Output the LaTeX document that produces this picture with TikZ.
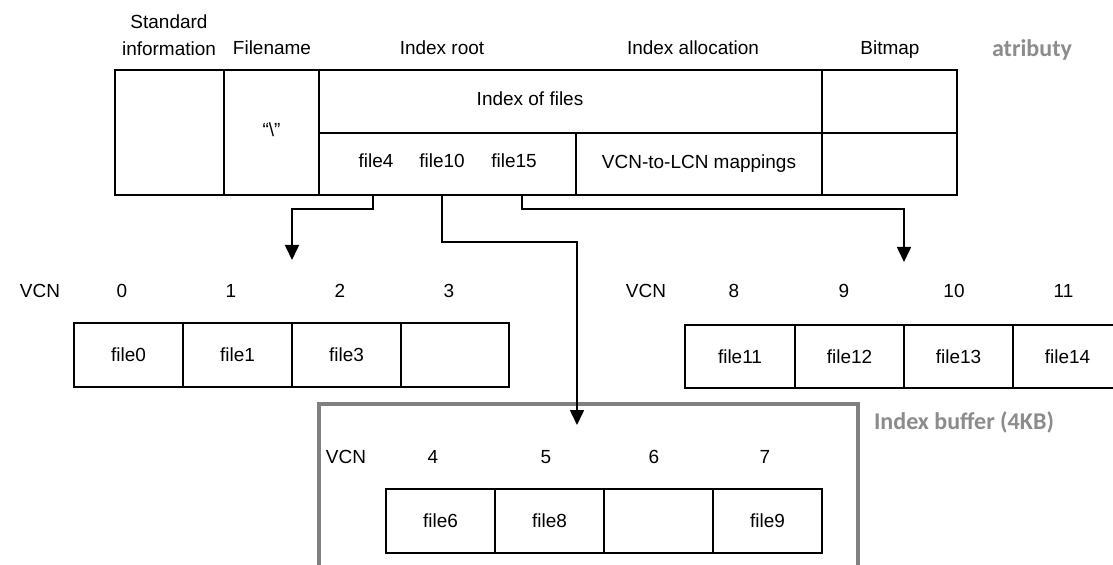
\documentclass[tikz,border=0pt]{standalone}
\usepackage{fontspec}
\setmainfont{Liberation Sans}
\newfontfamily\notefont{Carlito}
\usetikzlibrary{arrows.meta}
\definecolor{notegray}{RGB}{140,140,140}
\definecolor{framegray}{RGB}{128,128,128}
\tikzset{
  lbl/.style={anchor=base, inner sep=0pt, font=\fontsize{16.2pt}{19pt}\selectfont},
  cell/.style n args={2}{draw, line width=1.4pt, inner sep=0pt, outer sep=0pt,
    minimum width=(#1)*0.03cm, minimum height=(#2)*0.03cm,
    font=\fontsize{16.2pt}{19pt}\selectfont},
  note/.style={anchor=base, inner sep=0pt, text=notegray,
    font=\notefont\bfseries\fontsize{20.5pt}{24pt}\selectfont},
  link/.style={line width=1.4pt, -{Triangle[length=0.45cm,width=0.42cm]}},
  bufframe/.style={draw=framegray, line width=3.4pt, inner sep=0pt, outer sep=0pt}
}
\begin{document}
\begin{tikzpicture}[x=0.03cm, y=-0.03cm]
\clip (0,0) rectangle (1113,565);

% attribute headings
\node[lbl, align=center, anchor=center, font=\fontsize{16.2pt}{23pt}\selectfont]
  (hstd) at (169,35) {Standard\\information};
\node[lbl] (hname)  at (272,55) {Filename};
\node[lbl] (hroot)  at (442,55) {Index root};
\node[lbl] (halloc) at (693,55) {Index allocation};
\node[lbl] (hbmp)   at (890,55) {Bitmap};
\node[note] (attr)  at (1032,57) {atributy};

% MFT record of the directory
\node[cell={109}{125}] (stdinfo)  at (169.5,132.5) {};
\node[cell={95}{125}]  (fname)    at (271.5,132.5) {};
\node[cell={503}{63}]  (idxfiles) at (570.5,101.5) {};
\node[cell={135}{63}]  (bmptop)   at (889.5,101.5) {};
\node[cell={257}{62}]  (entries)  at (447.5,164) {};
\node[cell={246}{62}]  (vcnmap)   at (699,164) {VCN-to-LCN mappings};
\node[cell={135}{62}]  (bmpbot)   at (889.5,164) {};

\node[lbl] (ioftext) at (530,106) {Index of files};
\node[lbl] (rootname) at (271.5,137) {“\textbackslash”};
\node[lbl] (file4)  at (376,168) {file4};
\node[lbl] (file10) at (442,168) {file10};
\node[lbl] (file15) at (514,168) {file15};

% left index buffer (VCN 0-3)
\node[lbl] (vcnA) at (40,297) {VCN};
\foreach \n/\x in {0/122,1/231,2/340,3/449}
  \node[lbl] (na\n) at (\x,297) {\n};
\foreach \t/\l/\r [count=\k] in {file0/74/183,file1/183/292,file3/292/401,{}/401/509}
  \node[cell={\r-\l}{64}] (a\k) at ({(\l+\r)/2},355) {\t};

% right index buffer (VCN 8-11)
\node[lbl] (vcnB) at (646,297) {VCN};
\foreach \n/\x in {8/734,9/844,10/954,11/1063.5}
  \node[lbl] (nb\n) at (\x,297) {\n};
\foreach \t/\l/\r [count=\k] in {file11/685/795,file12/795/904,file13/904/1013,file14/1013/1122}
  \node[cell={\r-\l}{63}] (b\k) at ({(\l+\r)/2},356.5) {\t};

% middle index buffer (VCN 4-7), framed
\node[bufframe, minimum width=539*0.03cm, minimum height=200*0.03cm]
  (buffer) at (588.5,504) {};
\node[note] (buflabel) at (964,429) {Index buffer (4KB)};
\node[lbl] (vcnC) at (346,463) {VCN};
\foreach \n/\x in {4/433,5/546,6/654,7/765}
  \node[lbl] (nc\n) at (\x,463) {\n};
\foreach \t/\l/\r [count=\k] in {file6/386/495,file8/495/604,{}/604/713,file9/713/822}
  \node[cell={\r-\l}{64}] (c\k) at ({(\l+\r)/2},521) {\t};

% pointers from the root entries down to the buffers
\coordinate (p4)  at (373,195);
\coordinate (p10) at (442,195);
\coordinate (p15) at (522,195);
\coordinate (t0) at (292,260);
\coordinate (t1) at (577,425);
\coordinate (t2) at (904,262);
\draw[link] (p4)  -- ++(0,14) -| (t0);
\draw[link] (p10) -- ++(0,47) -| (t1);
\draw[link] (p15) -- ++(0,14) -| (t2);
\end{tikzpicture}
\end{document}
